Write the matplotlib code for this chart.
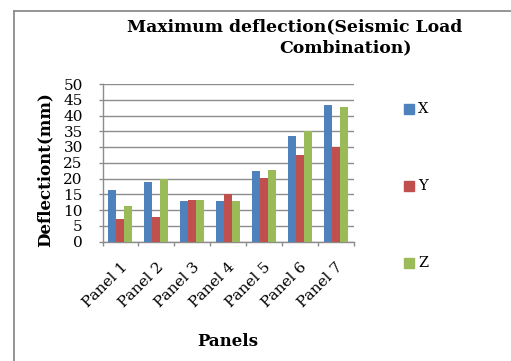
import matplotlib
matplotlib.use("Agg")
import matplotlib.pyplot as plt
import numpy as np
from matplotlib.lines import Line2D

plt.rcParams["font.family"] = ["DejaVu Serif"]

# --- data ---
panels = ["Panel 1", "Panel 2", "Panel 3", "Panel 4", "Panel 5", "Panel 6", "Panel 7"]
x_vals = [16.3, 18.8, 12.7, 12.8, 22.4, 33.6, 43.3]
y_vals = [7.3, 7.8, 13.2, 15.0, 20.2, 27.5, 29.9]
z_vals = [11.2, 19.7, 13.2, 12.8, 22.6, 35.0, 42.6]
series_names = ["X", "Y", "Z"]
colors = ["#4F81BD", "#C0504D", "#9BBB59"]

W, H = 511, 361
fig = plt.figure(figsize=(W / 100, H / 100), dpi=100)
ax = fig.add_axes([102.5 / W, 1 - 241.5 / H, 251 / W, 157.5 / H])

grid_col = "#8C8C8C"

pos = np.arange(len(panels))
bw = 1 / 4.5
for i, (vals, name, c) in enumerate(zip([x_vals, y_vals, z_vals], series_names, colors)):
    ax.bar(pos + (i - 1) * bw, vals, width=bw, color=c, label=name, zorder=3)

ax.set_xlim(-0.5, len(panels) - 0.5)
ax.set_ylim(0, 50)
ax.set_yticks(range(0, 51, 5))
ax.set_yticklabels([str(v) for v in range(0, 51, 5)], fontsize=11)
ax.set_xticks(pos)
ax.set_xticklabels(panels, fontsize=11, rotation=45,
                   ha="right", va="top", rotation_mode="anchor")
ax.set_xticks(np.arange(-0.5, len(panels), 1), minor=True)
ax.tick_params(axis="x", which="major", length=0, pad=13)
ax.tick_params(axis="x", which="minor", length=3.2, color=grid_col, width=1)
ax.tick_params(axis="y", length=3.2, color=grid_col, width=1, pad=11)
ax.yaxis.grid(True, color=grid_col, linewidth=1, zorder=0)
ax.set_axisbelow(True)
for side in ["top", "right"]:
    ax.spines[side].set_visible(False)
for side in ["left", "bottom"]:
    ax.spines[side].set_color(grid_col)
    ax.spines[side].set_linewidth(1)

# title, axis labels
fig.text(295 / W, 1 - 27 / H, "Maximum deflection(Seismic Load", ha="center", va="center",
         fontweight="bold", fontsize=12.4)
fig.text(345 / W, 1 - 48 / H, "Combination)", ha="center", va="center",
         fontweight="bold", fontsize=12.4)
fig.text(45 / W, 1 - 170 / H, "Deflectiont(mm)", ha="center", va="center", rotation=90,
         fontweight="bold", fontsize=12)
fig.text(228 / W, 1 - 341 / H, "Panels", ha="center", va="center",
         fontweight="bold", fontsize=12)

# legend entries spaced like the original
for name, c, yy in zip(series_names, colors, [109, 186, 263]):
    fig.patches.append(plt.Rectangle((404 / W, 1 - (yy + 5) / H), 10 / W, 10 / H,
                                     transform=fig.transFigure, color=c, figure=fig))
    fig.text(418 / W, 1 - yy / H, name, ha="left", va="center", fontsize=10.5)

# chart border (only left and top inside the image)
fig.add_artist(Line2D([14 / W, 14 / W], [0, 1 - 10.5 / H], color="#8C8C8C", lw=1.3,
                      transform=fig.transFigure))
fig.add_artist(Line2D([14 / W, 1], [1 - 10.5 / H, 1 - 10.5 / H], color="#8C8C8C", lw=1.3,
                      transform=fig.transFigure))

fig.savefig("out.png", dpi=100)
